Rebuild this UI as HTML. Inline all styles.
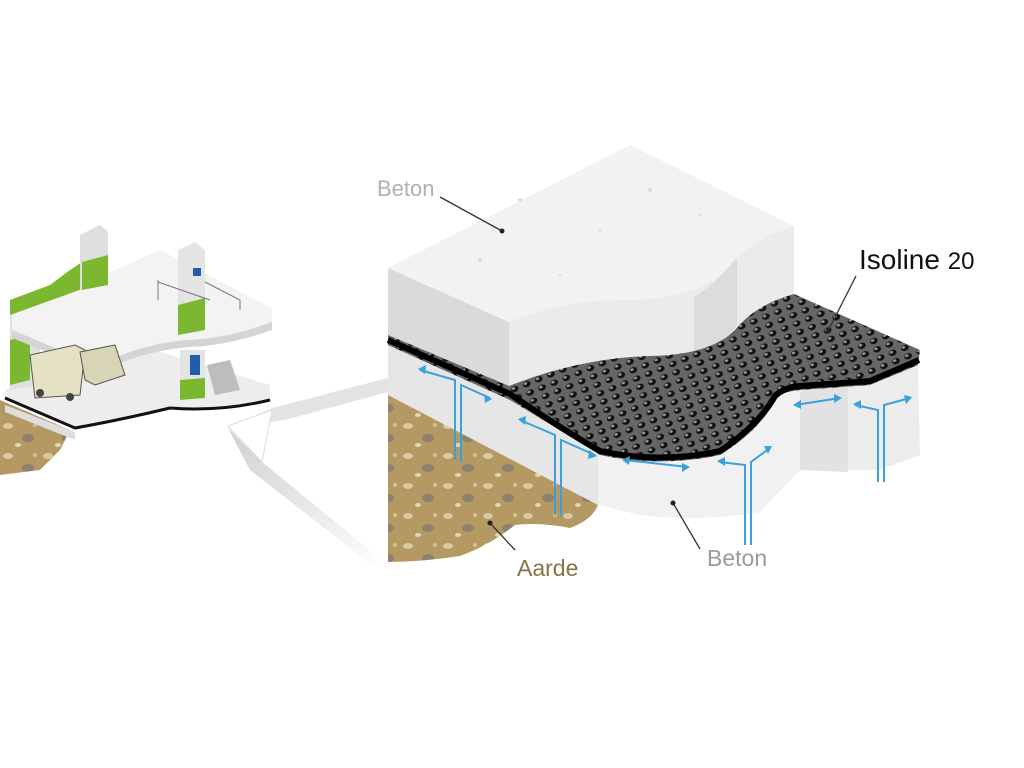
<!DOCTYPE html>
<html><head><meta charset="utf-8"><style>
html,body{margin:0;padding:0;background:#fff;width:1024px;height:768px;overflow:hidden}
svg{display:block}
text{font-family:"Liberation Sans",sans-serif}
</style></head><body>
<svg width="1024" height="768" viewBox="0 0 1024 768" xmlns="http://www.w3.org/2000/svg">
<defs>
<pattern id="mesh" x="0" y="0" width="13" height="9" patternUnits="userSpaceOnUse" patternTransform="rotate(-22)">
<rect width="13" height="9" fill="#666"/>
<ellipse cx="6.5" cy="4.5" rx="4" ry="3" fill="#111"/>
<ellipse cx="5.5" cy="3.5" rx="1.8" ry="1.3" fill="#999"/>
</pattern>
<pattern id="soil" width="40" height="30" patternUnits="userSpaceOnUse">
<rect width="40" height="30" fill="#b49a62"/>
<ellipse cx="8" cy="6" rx="5" ry="3" fill="#d8c9a2"/>
<ellipse cx="28" cy="18" rx="6" ry="4" fill="#8e826e"/>
<ellipse cx="18" cy="25" rx="3" ry="2" fill="#e2d6b6"/>
<ellipse cx="35" cy="5" rx="2" ry="2" fill="#d0c098"/>
</pattern>
<linearGradient id="ptr" x1="0" y1="0" x2="1" y2="1">
<stop offset="0" stop-color="#d0d0d0"/><stop offset="1" stop-color="#fff"/>
</linearGradient>
</defs>

<!-- pointer wedge -->
<polygon points="228,428 272,408 388,378 388,392 285,420" fill="#e4e4e4"/>
<polygon points="228,428 262,462 388,565 378,570 250,470" fill="url(#ptr)"/>
<polygon points="228,426 272,410 262,462" fill="#fff" stroke="#ddd" stroke-width="1"/>

<!-- Left building -->
<polygon points="0,400 70,430 60,450 40,470 0,475" fill="url(#soil)"/>
<path d="M5,390 L120,340 L270,385 L270,400 Q220,412 170,408 Q120,420 75,428 L5,398 Z" fill="#ededed"/>
<path d="M5,398 L75,428 Q120,420 170,408 Q220,412 270,400" stroke="#111" stroke-width="3" fill="none"/>
<polygon points="5,405 75,432 75,440 5,412" fill="#dedede"/>
<polygon points="10,300 10,390 40,385 40,305" fill="#e0e0e0"/>
<polygon points="10,340 30,335 30,380 10,385" fill="#7cb82f"/>
<path d="M12,315 L160,250 L272,308 L272,322 Q230,338 190,340 Q150,342 110,360 L60,350 L12,330 Z" fill="#f3f3f3"/>
<path d="M12,330 L60,350 L110,360 Q150,342 190,340 Q230,338 272,322 L272,330 Q230,345 190,347 Q150,350 110,367 L60,357 L12,338 Z" fill="#d4d4d4"/>
<polygon points="10,300 50,285 70,270 85,260 85,288 10,315" fill="#7cb82f"/>
<polygon points="80,235 100,225 108,232 108,285 80,290" fill="#dedede"/>
<polygon points="82,262 108,255 108,285 82,290" fill="#7cb82f"/>
<polygon points="178,250 195,242 205,250 205,330 178,335" fill="#e4e4e4"/>
<polygon points="178,305 205,298 205,330 178,335" fill="#7cb82f"/>
<rect x="193" y="268" width="8" height="8" fill="#1d5fa8"/>
<path d="M158,280 L158,300 M158,282 L210,300 M205,282 L240,300 L240,310" stroke="#777" fill="none"/>
<polygon points="30,355 75,345 85,350 80,395 35,398" fill="#e5e2c4" stroke="#555" stroke-width="1"/>
<polygon points="80,352 115,345 125,375 95,385 85,380" fill="#d8d4b6" stroke="#555" stroke-width="1"/>
<circle cx="40" cy="393" r="4" fill="#444"/><circle cx="70" cy="397" r="4" fill="#444"/>
<polygon points="180,350 205,350 205,395 180,398" fill="#e4e4e4"/>
<rect x="190" y="355" width="10" height="20" fill="#1d5fa8"/>
<polygon points="180,380 205,378 205,398 180,400" fill="#7cb82f"/>
<polygon points="207,365 230,360 240,390 215,395" fill="#bdbdbd"/>

<!-- lower beton -->
<path d="M388,345 L510,395 Q560,430 600,455 Q660,470 720,455 Q760,430 775,400 Q790,388 830,388 L870,385 L918,365 L920,455 L880,470 L800,470 Q780,490 760,512 Q700,522 640,515 L598,505 L388,395 Z" fill="#ececec"/>
<path d="M598,455 Q660,470 720,455 Q760,430 775,400 Q790,390 800,392 L800,470 Q780,490 760,512 Q700,522 640,515 L598,505 Z" fill="#f1f1f1"/>
<polygon points="800,392 848,385 848,472 800,470" fill="#e2e2e2"/>
<polygon points="388,345 510,395 545,420 598,455 598,505 388,395" fill="#e6e6e6"/>
<!-- soil -->
<path d="M388,395 L598,505 Q592,520 570,528 Q540,522 515,525 Q490,545 460,556 Q420,562 388,562 Z" fill="url(#soil)"/>

<!-- top beton block -->
<polygon points="388,268 509,322 509,388 388,338" fill="#dadada"/>
<path d="M509,322 Q560,300 620,300 Q690,300 720,275 Q750,238 794,226 L794,296 Q755,305 735,330 Q710,355 650,356 Q580,358 509,388 Z" fill="#ebebeb"/>
<path d="M694,297 Q715,285 737,258 L737,326 Q720,345 694,355 Z" fill="#dcdcdc"/>
<path d="M388,268 L630,145 L794,226 Q750,238 720,275 Q690,300 620,300 Q560,300 509,322 Z" fill="#f2f2f2"/>
<g fill="#dcdcdc"><circle cx="520" cy="200" r="2"/><circle cx="600" cy="230" r="1.5"/><circle cx="650" cy="190" r="2"/><circle cx="700" cy="215" r="1.5"/><circle cx="480" cy="260" r="2"/><circle cx="560" cy="275" r="1.5"/></g>

<!-- mesh -->
<path d="M388,335 L509,386 Q580,358 650,356 Q710,355 735,330 Q755,305 794,294 L920,350 L918,365 L870,385 L800,390 Q780,392 775,400 Q760,430 720,455 Q660,468 600,455 Q560,430 510,400 L388,345 Z" fill="url(#mesh)"/>
<path d="M388,340 L510,394 Q560,428 600,451 Q660,464 720,451 Q758,426 775,396 Q785,387 800,386 L870,381 L919,360" stroke="#000" stroke-width="6" fill="none"/>

<!-- blue arrows -->
<g stroke="#3ba0dc" stroke-width="2" fill="none">
<path d="M455,460 L455,380 L420,370 M461,462 L461,385 L490,398"/>
<path d="M555,515 L555,435 L520,420 M561,516 L561,440 L595,455"/>
<path d="M745,545 L745,465 L720,462 M751,545 L751,462 L770,448"/>
<path d="M878,482 L878,410 L855,405 M884,482 L884,405 L910,398"/>
<path d="M625,460 L688,467 M795,405 L840,398"/>
</g>
<g fill="#3ba0dc">
<polygon points="418,369 426,365 425,374"/><polygon points="492,399 484,394 485,403"/>
<polygon points="518,419 526,416 525,425"/><polygon points="597,456 589,450 588,459"/>
<polygon points="717,461 725,457 725,466"/><polygon points="772,446 764,446 768,454"/>
<polygon points="853,404 861,400 861,409"/><polygon points="912,397 904,395 906,404"/>
<polygon points="622,460 630,456 629,465"/><polygon points="690,467 682,463 682,472"/>
<polygon points="793,405 801,400 801,409"/><polygon points="842,398 834,394 834,403"/>
</g>

<!-- leaders -->
<g stroke="#333" stroke-width="1.3">
<line x1="440" y1="197" x2="502" y2="231"/>
<line x1="856" y1="276" x2="828" y2="331"/>
<line x1="515" y1="550" x2="490" y2="523"/>
<line x1="700" y1="549" x2="673" y2="503"/>
</g>
<g fill="#222"><circle cx="502" cy="231" r="2.5"/><circle cx="828" cy="331" r="2.5"/><circle cx="490" cy="523" r="2.5"/><circle cx="673" cy="503" r="2.5"/></g>

<text x="377" y="196" font-size="22" fill="#b0b0b0">Beton</text>
<text x="859" y="269" font-size="28" fill="#111">Isoline <tspan font-size="24">20</tspan></text>
<text x="517" y="576" font-size="23" fill="#8a7248">Aarde</text>
<text x="707" y="566" font-size="23" fill="#9a9a9a">Beton</text>
</svg>
</body></html>
